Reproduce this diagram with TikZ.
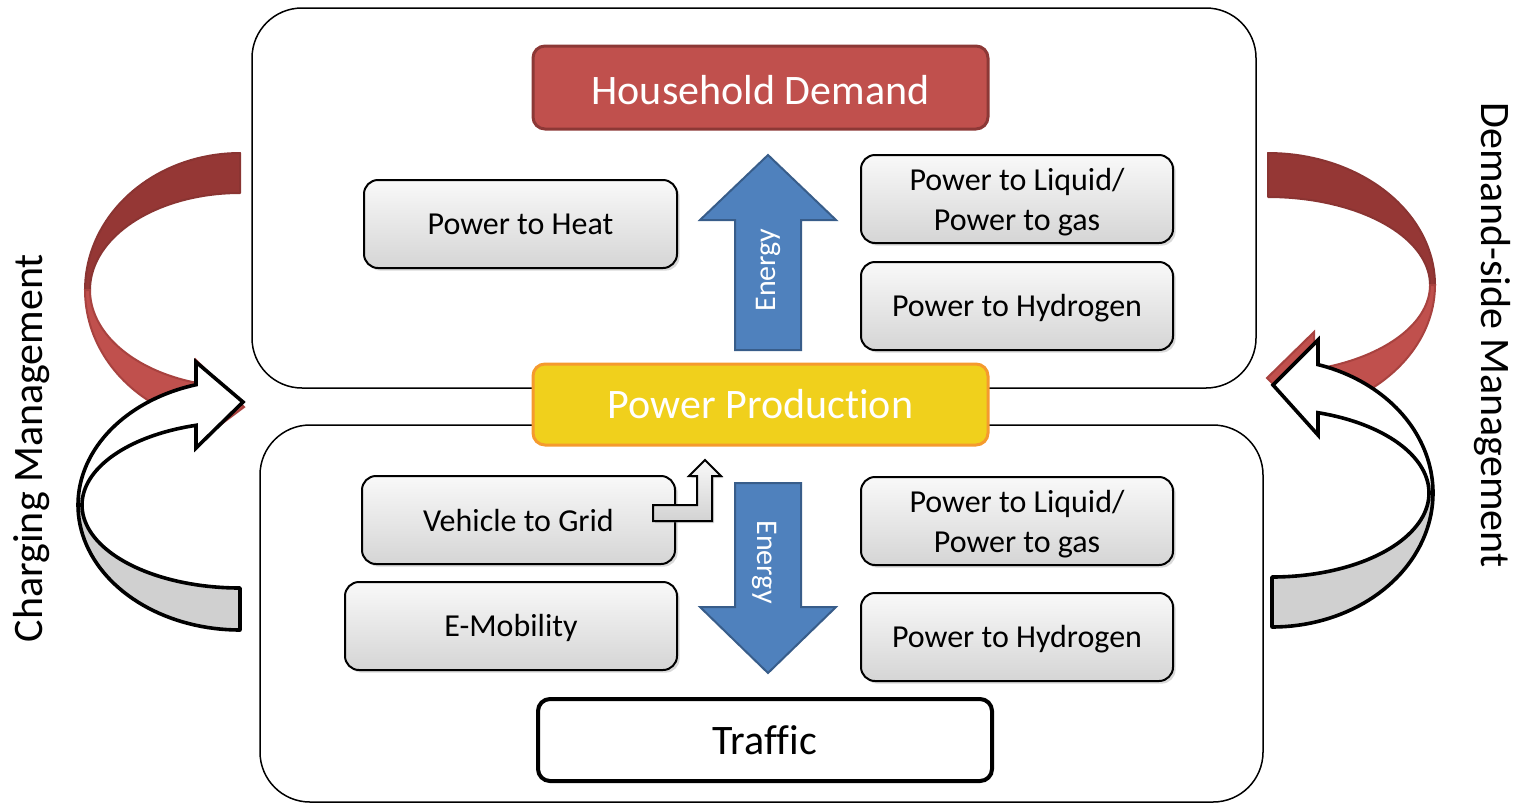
\documentclass[tikz,border=0pt]{standalone}
\usepackage{fontspec}
\setmainfont[Ligatures=NoCommon]{Carlito}
\usetikzlibrary{shadows}
\definecolor{hdred}{HTML}{C0504D}
\definecolor{hdredborder}{HTML}{8C3836}
\definecolor{darkred}{HTML}{953735}
\definecolor{darkredborder}{HTML}{8A3432}
\definecolor{lightredborder}{HTML}{A8423F}
\definecolor{ppyellow}{HTML}{F0D01C}
\definecolor{pporange}{HTML}{F59A2E}
\definecolor{eblue}{HTML}{4F81BD}
\definecolor{eblueborder}{HTML}{385D8A}
\definecolor{backgray}{HTML}{D0D0D0}
\newcommand{\lowertext}[2]{\raisebox{-#1}[\height][\depth]{#2}}
\begin{document}
\begin{tikzpicture}[x=0.5pt,y=-0.5pt,
  container/.style={draw=black, line width=0.75pt, rounded corners=25pt, inner sep=0pt},
  graybox/.style={draw=black, line width=1pt, rounded corners=7pt, top color=gray!5, bottom color=gray!33,
    minimum height=44pt, inner sep=0pt, align=center, font=\fontsize{16}{20}\selectfont,
    drop shadow={shadow xshift=1.3pt, shadow yshift=-1.3pt, opacity=0.3}},
  bigbox/.style={rounded corners=6pt, minimum width=227.5pt, minimum height=41pt, inner sep=0pt, font=\fontsize{21}{25}\selectfont},
  blockarrow/.style={fill=eblue, draw=eblueborder, line width=1pt, line join=miter},
  energy/.style={text=white, font=\fontsize{15}{18}\selectfont, inner sep=0pt},
  sidelabel/.style={font=\fontsize{21}{25}\selectfont, inner sep=0pt},
  wback/.style={fill=backgray, draw=black, line width=1.8pt, line join=round},
  wfront/.style={fill=white, draw=black, line width=1.8pt, line join=miter},
  rback/.style={fill=darkred, draw=darkredborder, line width=1pt, line join=round},
  rfront/.style={fill=hdred, draw=lightredborder, line width=1pt, line join=miter},
  bentarrow/.style={draw=black, line width=1pt, top color=gray!5, bottom color=gray!35, line join=miter,
    drop shadow={shadow xshift=1pt, shadow yshift=-1pt, opacity=0.3}}
]
\useasboundingbox (0,0) rectangle (1518,804);

% containers
\node[container, minimum width=502pt, minimum height=190pt] (house) at (754,198) {};
\node[container, minimum width=501.5pt, minimum height=188.5pt] (traffbox) at (761.5,613.5) {};

% left curved arrows
\begin{scope}[shift={(240,290)}]
  \filldraw[rback] (0,-137) -- plot[domain=270:180, samples=40] ({155*cos(\x)},{137*sin(\x)})
    -- plot[domain=180:270, samples=40] ({150*cos(\x)},{97*sin(\x)}) -- cycle;
  \filldraw[rfront] plot[domain=180:106.5, samples=40] ({155*cos(\x)},{137*sin(\x)})
    -- (-44,153) -- (4,117) -- (-44,70)
    -- plot[domain=107.06:180, samples=40] ({150*cos(\x)},{97*sin(\x)}) -- cycle;
\end{scope}
\begin{scope}[shift={(240,505)}]
  \filldraw[wback] (0,125) -- plot[domain=90:180, samples=40] ({162*cos(\x)},{125*sin(\x)})
    -- plot[domain=180:90, samples=40] ({158*cos(\x)},{83*sin(\x)}) -- cycle;
  \filldraw[wfront] plot[domain=180:254.24, samples=40] ({162*cos(\x)},{125*sin(\x)})
    -- (-44,-143) -- (3,-103) -- (-44,-57)
    -- plot[domain=253.83:180, samples=40] ({158*cos(\x)},{83*sin(\x)}) -- cycle;
\end{scope}

% right curved arrows
\begin{scope}[shift={(1268,285)}, xscale=-1]
  \filldraw[rback] (0,-132) -- plot[domain=270:180, samples=40] ({167*cos(\x)},{132*sin(\x)})
    -- plot[domain=180:270, samples=40] ({162*cos(\x)},{88*sin(\x)}) -- cycle;
  \filldraw[rfront] plot[domain=180:105.97, samples=40] ({167*cos(\x)},{132*sin(\x)})
    -- (-46,140) -- (1,93) -- (-46,47)
    -- plot[domain=106.5:180, samples=40] ({162*cos(\x)},{88*sin(\x)}) -- cycle;
\end{scope}
\begin{scope}[shift={(1272,493)}, xscale=-1]
  \filldraw[wback] (0,134) -- plot[domain=90:180, samples=40] ({161*cos(\x)},{134*sin(\x)})
    -- plot[domain=180:90, samples=40] ({157*cos(\x)},{84*sin(\x)}) -- cycle;
  \filldraw[wfront] plot[domain=180:253.4, samples=40] ({161*cos(\x)},{134*sin(\x)})
    -- (-46,-153) -- (-1,-108) -- (-46,-58)
    -- plot[domain=252.96:180, samples=40] ({157*cos(\x)},{84*sin(\x)}) -- cycle;
\end{scope}

% side labels
\node[sidelabel, rotate=90] (cm) at (32,448) {Charging Management};
\node[sidelabel, rotate=-90] (dsm) at (1492,335) {Demand-side Management};

% main boxes
\node[bigbox, fill=hdred, draw=hdredborder, line width=1.5pt, text=white, minimum height=41.5pt] (hd) at (760.5,87.5) {\lowertext{1.2pt}{Household Demand}};
\node[bigbox, fill=ppyellow, draw=pporange, line width=1.5pt, text=white, minimum height=40.5pt] (pp) at (760.5,404.5) {Power Production};
\node[bigbox, fill=white, draw=black, line width=2pt, minimum width=227pt] (tr) at (765,740) {Traffic};

% energy arrows
\draw[blockarrow] (735,350) -- (735,220) -- (700,220) -- (768,155) -- (836,220) -- (801,220) -- (801,350) -- cycle;
\node[energy, rotate=90] (e1) at (768,270) {Energy};
\draw[blockarrow] (735,483) -- (735,607) -- (700,607) -- (768,673) -- (836,607) -- (801,607) -- (801,483) -- cycle;
\node[energy, rotate=-90] (e2) at (765,562) {Energy};

% upper gray boxes
\node[graybox, minimum width=156.5pt] (pth) at (520.5,224) {Power to Heat};
\node[graybox, minimum width=156pt] (ptl1) at (1017,199) {\lowertext{1.6pt}{\parbox{150pt}{\centering Power to Liquid/\\Power to gas}}};
\node[graybox, minimum width=156pt] (pth1) at (1017,306) {\lowertext{1pt}{Power to Hydrogen}};

% lower gray boxes
\node[graybox, minimum width=156.5pt] (v2g) at (518.5,520) {Vehicle to Grid};
\node[graybox, minimum width=166pt] (emob) at (511,626) {\lowertext{1pt}{E-Mobility}};
\node[graybox, minimum width=156pt] (ptl2) at (1017,521) {\lowertext{1.6pt}{\parbox{150pt}{\centering Power to Liquid/\\Power to gas}}};
\node[graybox, minimum width=156pt] (pth2) at (1017,637) {\lowertext{1pt}{Power to Hydrogen}};

% small bent arrow from Vehicle to Grid
\filldraw[bentarrow] (653,505) -- (697,505) -- (697,476) -- (689,476) -- (705,460) -- (721,476) -- (712,476) -- (712,521) -- (653,521) -- cycle;
\end{tikzpicture}
\end{document}
